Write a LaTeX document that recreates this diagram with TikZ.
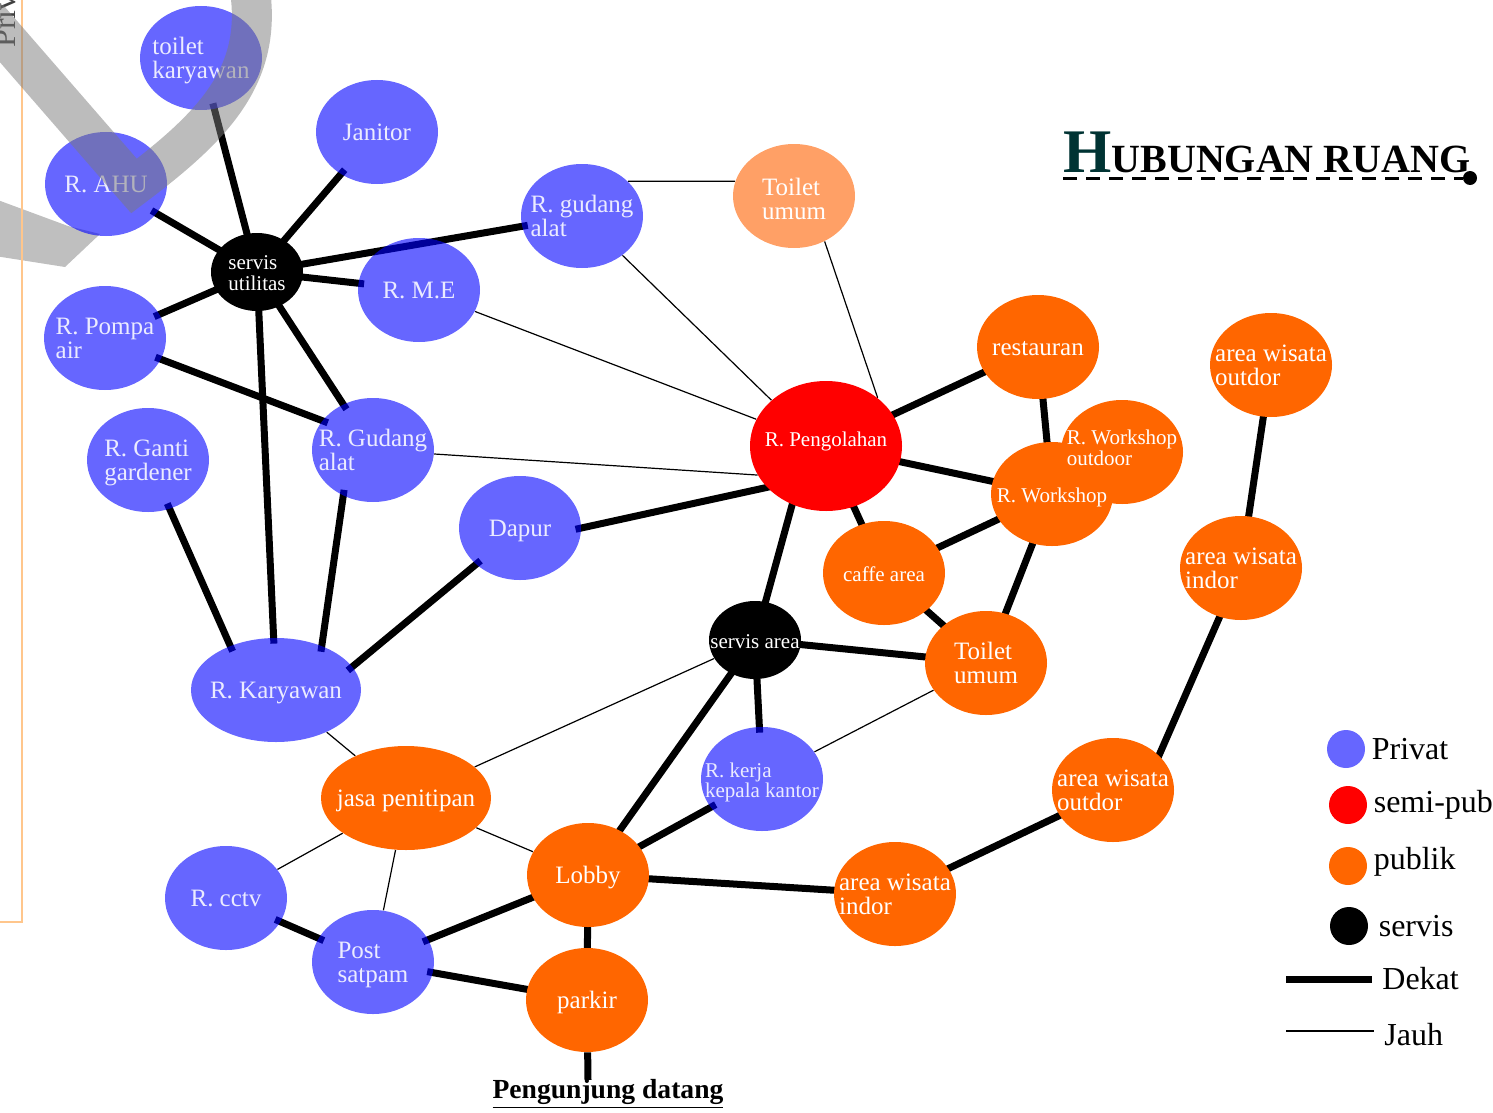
\documentclass[tikz,border=0pt]{standalone}
\usepackage{fontspec}
\setmainfont{Liberation Serif}
\usetikzlibrary{shapes.geometric,positioning,backgrounds}

\definecolor{privblue}{RGB}{0,0,255}
\definecolor{pubor}{RGB}{255,102,0}
\definecolor{toilor}{RGB}{255,160,102}
\definecolor{titleteal}{RGB}{0,51,51}

\newcommand{\fbig}{\fontsize{12.5}{12}\selectfont}
\newcommand{\fsmall}{\fontsize{10.5}{10}\selectfont}
% room names sit on top of the ellipse without resizing it
\newcommand{\nm}[2][-4.8pt]{\smash{\raisebox{#1}{\makebox[0pt]{\begin{tabular}{@{}l@{}}#2\end{tabular}}}}}

\begin{document}
\begin{tikzpicture}[x=0.5pt,y=-0.5pt,
  rm/.style={ellipse,inner sep=0pt,minimum width=61pt,minimum height=52pt,font=\fbig},
  priv/.style={rm,fill=privblue,fill opacity=.6,text opacity=1,text=white!92!blue},
  pub/.style={rm,fill=pubor,text=white},
  semi/.style={rm,fill=red,text=white},
  serv/.style={rm,fill=black,text=white,minimum width=46pt,minimum height=39pt,font=\fsmall},
  wide/.style={minimum width=85pt},
  sm/.style={font=\fsmall},
  dekat/.style={line width=3.5pt,shorten <=-3pt,shorten >=-3pt},
  jauh/.style={line width=.6pt},
  legdot/.style={circle,inner sep=0pt,minimum size=19pt},
  leglab/.style={font=\fontsize{16}{16}\selectfont,inner sep=2pt}]
  \useasboundingbox (0,0) rectangle (1493,1113);

  % privat
  \node[priv] (tk) at (201,58) {\nm{toilet\\karyawan}};
  \node[priv] (jan) at (377,132) {\nm{Janitor}};
  \node[priv] (ahu) at (106,184) {\nm{R. AHU}};
  \node[priv] (gda) at (582,216) {\nm{R. gudang\\alat}};
  \node[priv] (me) at (419,290) {\nm{R. M.E}};
  \node[priv] (pompa) at (105,338) {\nm{R. Pompa\\air}};
  \node[priv] (ganti) at (148,460) {\nm{R. Ganti\\gardener}};
  \node[priv] (gdb) at (373,450) {\nm{R. Gudang\\alat}};
  \node[priv] (dapur) at (520,528) {\nm{Dapur}};
  \node[priv,wide] (kary) at (276,690) {\nm{R. Karyawan}};
  \node[priv,sm] (kerja) at (762,779) {\nm{R. kerja\\kepala kantor}};
  \node[priv] (cctv) at (226,898) {\nm{R. cctv}};
  \node[priv] (post) at (373,962) {\nm{Post\\satpam}};

  % servis
  \node[serv] (su) at (257,272) {\nm{servis\\utilitas}};
  \node[serv] (sa) at (755,640) {\nm{servis area}};

  % semi-publik
  \node[semi,sm,minimum width=76pt,minimum height=65pt] (olah) at (826,446) {\nm[-1pt]{R. Pengolahan}};

  % publik
  \node[pub,fill=toilor] (tu1) at (794,196) {\nm[-6pt]{Toilet\\umum}};
  \node[pub] (resto) at (1038,347) {\nm{restauran}};
  \node[pub] (awo1) at (1271,365) {\nm{area wisata\\outdor}};
  \node[pub] (wso) at (1122,452) {};
  \node[pub,sm] (ws) at (1052,494) {\nm{R. Workshop}};
  \node[sm,text=white,inner sep=0pt] (wsotx) at (wso) {\nm[-2pt]{R. Workshop\\outdoor}};
  \node[pub,sm] (cafe) at (884,573) {\nm{caffe area}};
  \node[pub] (awi1) at (1241,568) {\nm{area wisata\\indor}};
  \node[pub] (tu2) at (986,663) {\nm{Toilet\\umum}};
  \node[pub] (awo2) at (1113,790) {\nm{area wisata\\outdor}};
  \node[pub,wide] (jasa) at (406,798) {\nm{jasa penitipan}};
  \node[pub] (lobby) at (588,875) {\nm{Lobby}};
  \node[pub] (awi2) at (895,894) {\nm{area wisata\\indor}};
  \node[pub] (parkir) at (587,1000) {\nm{parkir}};

  \begin{scope}[on background layer]
    \fill[black!25] (-5,199) -- (68,226) -- (100,234) -- (65,267) -- (-5,256) -- cycle;
    % dekat
    \draw[dekat] (su) -- (tk);
    \draw[dekat] (su) -- (jan);
    \draw[dekat] (su) -- (ahu);
    \draw[dekat] (su) -- (gda);
    \draw[dekat] (su) -- (me);
    \draw[dekat] (su) -- (pompa);
    \draw[dekat] (su) -- (gdb);
    \draw[dekat] (su) -- (kary);
    \draw[dekat] (pompa) -- (gdb.150);
    \draw[dekat] (ganti) -- (kary.136);
    \draw[dekat] (gdb.-123) -- (kary.44);
    \draw[dekat] (dapur) -- (kary.17);
    \draw[dekat] (dapur.0) -- (olah.-145);
    \draw[dekat] (olah) -- (resto);
    \draw[dekat] (olah) -- (ws);
    \draw[dekat] (olah) -- (cafe);
    \draw[dekat] (olah.-120) -- (sa);
    \draw[dekat] (resto) -- (ws);
    \draw[dekat] (cafe) -- (ws);
    \draw[dekat] (cafe) -- (tu2);
    \draw[dekat] (ws) -- (tu2);
    \draw[dekat] (sa) -- (tu2);
    \draw[dekat] (sa) -- (kerja);
    \draw[dekat] (sa) -- (lobby);
    \draw[dekat] (kerja) -- (lobby);
    \draw[dekat] (lobby) -- (post);
    \draw[dekat] (lobby) -- (awi2);
    \draw[dekat] (lobby) -- (parkir);
    \draw[dekat] (awi2) -- (awo2);
    \draw[dekat] (awo2.37) -- (awi1);
    \draw[dekat] (awi1) -- (awo1);
    \draw[dekat] (cctv) -- (post);
    \draw[dekat] (post) -- (parkir);
    % jauh
    \draw[jauh] (gda.37) -- (tu1.166);
    \draw[jauh] (gda) -- (olah.140);
    \draw[jauh] (tu1.-56) -- (olah.43);
    \draw[jauh] (me) -- (olah);
    \draw[jauh] (gdb) -- (olah.-157);
    \draw[jauh] (kary) -- (jasa);
    \draw[jauh] (sa) -- (jasa);
    \draw[jauh] (jasa) -- (cctv);
    \draw[jauh] (jasa) -- (post);
    \draw[jauh] (jasa) -- (lobby);
    \draw[jauh] (tu2) -- (kerja);
  \end{scope}

  % entrance
  \coordinate (entr) at (588,1080);
  \draw[line width=3.5pt] (parkir) -- (entr);
  \node[font=\fontsize{13.8}{14}\selectfont\bfseries,anchor=base] (pd) at (608,1098) {\underline{Pengunjung datang}};

  % title
  \node[anchor=base west,inner sep=0pt] (ttl) at (1063,172)
    {{\fontsize{31}{31}\selectfont\bfseries\color{titleteal}H}{\fontsize{20}{20}\selectfont\bfseries UBUNGAN RUANG}};
  \coordinate (u1) at (1063,178);
  \node[circle,fill,inner sep=0pt,minimum size=7pt] (udot) at (1470,178) {};
  \draw[line width=1.5pt,dash pattern=on 7pt off 4.5pt] (u1) -- (udot);

  % legenda
  \node[legdot,fill=privblue,fill opacity=.6] (lg1) at (1346,749) {};
  \node[leglab,right=1pt of lg1] {Privat};
  \node[legdot,fill=red] (lg2) at (1348,805) {};
  \node[leglab,right=1pt of lg2] {semi-publik};
  \node[legdot,fill=pubor] (lg3) at (1348,866) {};
  \node[leglab,right=1pt of lg3,yshift=2pt] {publik};
  \node[legdot,fill=black] (lg4) at (1349,926) {};
  \node[leglab,right=3pt of lg4] {servis};
  \coordinate (d1) at (1286,979);
  \coordinate (d2) at (1372,979);
  \draw[line width=3.5pt] (d1) -- (d2);
  \node[leglab,right=3pt of d2] {Dekat};
  \coordinate (j1) at (1286,1031);
  \coordinate (j2) at (1374,1031);
  \draw[jauh] (j1) -- (j2);
  \node[leglab,right=3pt of j2,yshift=-2pt] {Jauh};

  % sisa gambar di pojok kiri atas
  \draw[orange!45,line width=1pt] (22,-5) -- (22,922) -- (-5,922);
  \node[rotate=90,anchor=south west,inner sep=0pt,text=black!75,font=\fontsize{16}{16}\selectfont] (wm) at (16,48) {Privat};
  \draw[line width=20pt,draw=black!52,draw opacity=.5] (-12,18) -- (134,186) .. controls (215,125) and (262,75) .. (250,-10);
\end{tikzpicture}
\end{document}
